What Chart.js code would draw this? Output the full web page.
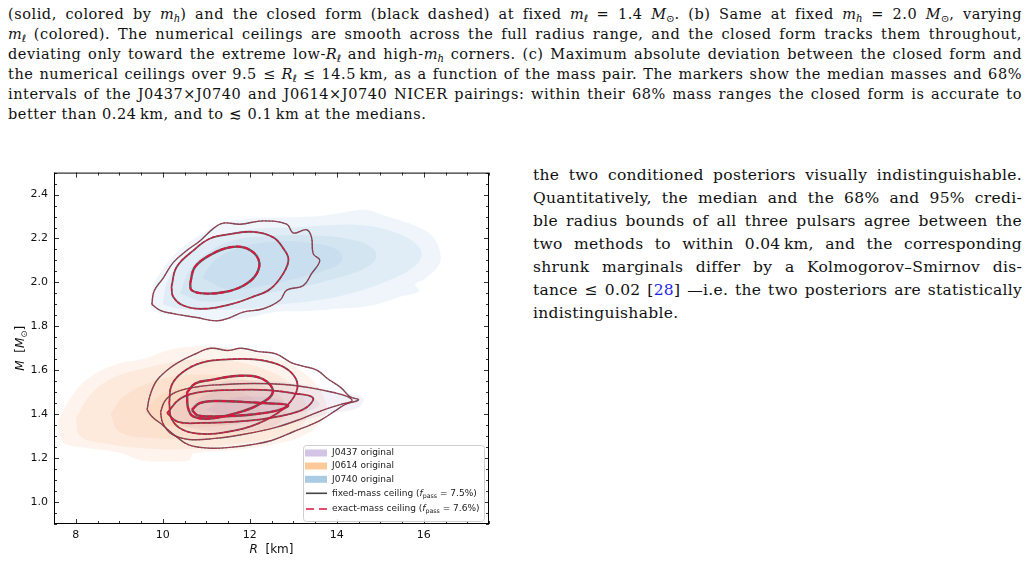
<!DOCTYPE html>
<html>
<head>
<meta charset="utf-8">
<script src="https://cdn.jsdelivr.net/npm/chart.js@4.4.1/dist/chart.umd.min.js"></script>
<style>
body{margin:0;width:1029px;height:562px;background:#fff;position:relative;overflow:hidden;font-family:"DejaVu Serif",serif;color:#111}
.cap{position:absolute;left:8px;top:3.5px;width:1014px;font-size:14.5px;line-height:20px;letter-spacing:0.55px}
.txt{position:absolute;left:533px;top:164.1px;width:489px;font-size:15.5px;line-height:23px;letter-spacing:0.3px}
.ln{text-align:justify;text-align-last:justify;white-space:nowrap}
.ln.last{text-align-last:left}
sub{font-size:0.7em;vertical-align:-0.25em;line-height:0}
.ell{font-family:"DejaVu Sans",sans-serif;font-style:normal}
.mth{display:inline-block;letter-spacing:0}
.ref{color:#1f1fe6}
#wrap{position:absolute;left:0;top:160px;width:520px;height:402px}
</style>
</head>
<body>

<div class="cap">
<div class="ln">(solid, colored by <span class="mth"><i>m</i><sub><i>h</i></sub></span>) and the closed form (black dashed) at fixed <span class="mth"><i>m</i><sub class="ell">ℓ</sub></span> = 1.4 <span class="mth"><i>M</i><sub>⊙</sub></span>. (b) Same at fixed <span class="mth"><i>m</i><sub><i>h</i></sub></span> = 2.0 <span class="mth"><i>M</i><sub>⊙</sub></span>, varying</div>
<div class="ln"><span class="mth"><i>m</i><sub class="ell">ℓ</sub></span> (colored). The numerical ceilings are smooth across the full radius range, and the closed form tracks them throughout,</div>
<div class="ln">deviating only toward the extreme low-<span class="mth"><i>R</i><sub class="ell">ℓ</sub></span> and high-<span class="mth"><i>m</i><sub><i>h</i></sub></span> corners. (c) Maximum absolute deviation between the closed form and</div>
<div class="ln">the numerical ceilings over 9.5 ≤ <span class="mth"><i>R</i><sub class="ell">ℓ</sub></span> ≤ 14.5&#8201;km, as a function of the mass pair. The markers show the median masses and 68%</div>
<div class="ln">intervals of the J0437×J0740 and J0614×J0740 NICER pairings: within their 68% mass ranges the closed form is accurate to</div>
<div class="ln last">better than 0.24&#8201;km, and to ≲ 0.1&#8201;km at the medians.</div>
</div>

<div class="txt">
<div class="ln">the two conditioned posteriors visually indistinguishable.</div>
<div class="ln">Quantitatively, the median and the 68% and 95% credi-</div>
<div class="ln">ble radius bounds of all three pulsars agree between the</div>
<div class="ln">two methods to within 0.04&#8201;km, and the corresponding</div>
<div class="ln">shrunk marginals differ by a Kolmogorov–Smirnov dis-</div>
<div class="ln">tance ≤ 0.02 [<span class="ref">28</span>] —i.e. the two posteriors are statistically</div>
<div class="ln last">indistinguishable.</div>
</div>

<div id="wrap"><canvas id="mr" width="520" height="402"></canvas></div>

<script>
// ================= AXES =================
const xRange = [7.5, 17.5];
const yRange = [0.9, 2.5];
const xMajor = [8, 10, 12, 14, 16];
const yMajor = [1.0, 1.2, 1.4, 1.6, 1.8, 2.0, 2.2, 2.4];
const xMinorStep = 0.5;
const yMinorStep = 0.05;

// ================= J0740 (blue) filled density levels =================
const j0740Fill1 = [[9.72,1.88],[9.76,1.97],[10.0,2.06],[10.4,2.15],[10.9,2.22],[11.4,2.27],[12.0,2.29],[12.8,2.295],[13.4,2.30],[13.7,2.305],[14.2,2.32],[14.7,2.33],[15.0,2.31],[15.5,2.28],[15.9,2.25],[16.2,2.21],[16.37,2.14],[16.35,2.08],[16.05,2.02],[15.8,1.99],[15.9,1.96],[15.45,1.935],[14.8,1.895],[14.0,1.88],[13.3,1.87],[12.6,1.865],[12.0,1.84],[11.5,1.83],[11.0,1.835],[10.4,1.85],[9.95,1.86]];
const j0740Fill2 = [[10.0,1.90],[10.1,2.0],[10.4,2.09],[10.9,2.17],[11.5,2.22],[12.2,2.245],[13.0,2.25],[13.8,2.26],[14.6,2.26],[15.3,2.23],[15.8,2.18],[15.95,2.12],[15.7,2.06],[15.2,2.01],[14.5,1.96],[13.6,1.92],[12.7,1.90],[11.9,1.88],[11.0,1.875],[10.4,1.88]];
const j0740Fill3 = [[10.4,1.95],[10.6,2.05],[11.0,2.13],[11.6,2.19],[12.4,2.21],[13.3,2.215],[14.2,2.20],[14.8,2.16],[14.9,2.11],[14.6,2.06],[14.0,2.02],[13.2,1.98],[12.4,1.95],[11.6,1.92],[10.9,1.915]];
const j0740Fill4 = [[10.9,2.02],[11.2,2.10],[11.8,2.16],[12.6,2.185],[13.4,2.18],[14.0,2.15],[14.12,2.10],[13.8,2.06],[13.1,2.02],[12.3,1.985],[11.5,1.97]];

// ================= J0614 (orange) filled density levels =================
const j0614Fill1 = [[7.6,1.37],[7.64,1.30],[7.75,1.265],[8.3,1.245],[9.0,1.225],[9.5,1.19],[10.0,1.185],[10.6,1.19],[10.7,1.22],[11.5,1.235],[12.5,1.26],[13.3,1.31],[13.75,1.40],[13.65,1.50],[13.3,1.58],[12.7,1.65],[11.9,1.69],[11.0,1.71],[10.2,1.695],[9.6,1.655],[8.9,1.625],[8.3,1.565],[7.9,1.48]];
const j0614Fill2 = [[8.0,1.38],[8.1,1.30],[8.7,1.265],[9.5,1.245],[10.5,1.24],[11.5,1.26],[12.5,1.29],[13.2,1.35],[13.3,1.44],[13.0,1.53],[12.4,1.60],[11.5,1.645],[10.5,1.645],[9.6,1.61],[8.8,1.56],[8.3,1.48]];
const j0614Fill3 = [[8.8,1.40],[9.0,1.32],[9.8,1.29],[10.8,1.29],[11.8,1.31],[12.6,1.35],[12.85,1.43],[12.5,1.51],[11.7,1.565],[10.7,1.58],[9.8,1.55],[9.1,1.48]];
const j0614Fill4 = [[9.6,1.41],[9.9,1.36],[10.7,1.34],[11.6,1.355],[12.2,1.40],[12.1,1.47],[11.4,1.515],[10.5,1.52],[9.9,1.48]];

// ================= J0437 (purple) filled density levels =================
const j0437Fill1 = [[10.2,1.42],[10.5,1.50],[11.2,1.545],[12.2,1.555],[13.2,1.535],[14.0,1.50],[14.6,1.475],[14.5,1.43],[13.8,1.40],[12.8,1.35],[11.8,1.32],[10.8,1.33],[10.3,1.37]];
const j0437Fill2 = [[10.6,1.42],[10.9,1.48],[11.6,1.51],[12.6,1.51],[13.4,1.48],[13.6,1.44],[13.0,1.40],[12.0,1.36],[11.0,1.36]];
const j0437Fill3 = [[11.0,1.42],[11.4,1.465],[12.2,1.48],[12.8,1.45],[12.4,1.405],[11.6,1.385]];

// ================= conditioned contours (fixed-mass / exact-mass) =================
const j0740Outer = [[9.75,1.90],[9.80,1.96],[10.01,2.02],[10.24,2.09],[10.55,2.145],[10.86,2.19],[11.16,2.245],[11.39,2.27],[11.78,2.265],[12.31,2.28],[12.85,2.265],[13.0,2.225],[13.31,2.24],[13.42,2.205],[13.46,2.13],[13.61,2.10],[13.42,2.04],[13.23,1.985],[12.85,1.965],[12.70,1.92],[12.31,1.88],[11.85,1.865],[11.55,1.84],[11.24,1.825],[10.78,1.84],[10.24,1.858],[9.94,1.873]];
const j0740Mid = [[10.2,1.98],[10.32,2.07],[10.70,2.145],[11.09,2.20],[11.55,2.22],[12.08,2.23],[12.54,2.205],[12.77,2.155],[12.89,2.105],[12.77,2.04],[12.47,1.97],[12.08,1.935],[11.55,1.90],[10.93,1.88],[10.47,1.895],[10.24,1.935]];
const j0740Inner = [[10.63,1.995],[10.74,2.07],[11.09,2.125],[11.55,2.16],[11.93,2.155],[12.2,2.105],[12.16,2.04],[11.85,1.985],[11.39,1.955],[10.93,1.95],[10.66,1.965]];

const j0614Outer = [[9.64,1.42],[9.70,1.48],[9.85,1.55],[10.1,1.60],[10.35,1.635],[10.7,1.67],[11.1,1.70],[11.5,1.69],[11.8,1.70],[12.2,1.685],[12.6,1.675],[12.95,1.635],[13.2,1.62],[13.55,1.60],[13.8,1.56],[14.1,1.52],[14.3,1.48],[14.5,1.465],[14.2,1.445],[14.0,1.42],[13.6,1.37],[13.0,1.32],[12.5,1.28],[12.0,1.26],[11.6,1.25],[11.1,1.245],[10.6,1.26],[10.3,1.30],[10.0,1.35],[9.75,1.39]];
const j0614Mid = [[10.15,1.45],[10.2,1.53],[10.45,1.59],[10.9,1.635],[11.5,1.65],[12.1,1.65],[12.6,1.63],[12.95,1.59],[13.1,1.53],[12.95,1.46],[12.6,1.40],[12.1,1.35],[11.5,1.32],[10.9,1.31],[10.45,1.33],[10.2,1.38]];
const j0614Inner = [[10.56,1.50],[10.75,1.54],[11.09,1.555],[11.78,1.575],[12.3,1.56],[12.53,1.50],[12.17,1.44],[11.6,1.40],[11.09,1.38],[10.7,1.39],[10.58,1.43]];

const j0437Outer = [[9.95,1.41],[10.05,1.46],[10.3,1.50],[10.8,1.525],[11.4,1.535],[12.1,1.54],[12.8,1.535],[13.4,1.52],[13.9,1.50],[14.25,1.48],[14.35,1.46],[14.1,1.445],[13.7,1.42],[13.2,1.38],[12.6,1.34],[11.9,1.31],[11.2,1.29],[10.6,1.285],[10.2,1.31],[10.0,1.36]];
const j0437Mid = [[10.1,1.405],[10.4,1.47],[10.86,1.50],[11.6,1.51],[12.4,1.51],[13.0,1.495],[13.45,1.475],[13.3,1.43],[12.9,1.40],[12.2,1.375],[11.6,1.365],[10.9,1.36],[10.35,1.365]];
const j0437Inner = [[10.67,1.42],[10.85,1.45],[11.25,1.46],[11.9,1.455],[12.4,1.45],[12.88,1.44],[12.6,1.415],[11.85,1.395],[11.2,1.39],[10.8,1.395]];

// ================= LEGEND =================
const legendPatches = [
  {label:"J0437 original", color:"#d3c3e4"},
  {label:"J0614 original", color:"#fdc998"},
  {label:"J0740 original", color:"#a9cbe3"}
];
const legendLines = [
  {label:"fixed-mass ceiling (", fpass:"7.5%", color:"#444444", dash:[]},
  {label:"exact-mass ceiling (", fpass:"7.6%", color:"#dc143c", dash:[8,5]}
];

const COL_BLACK = "rgba(70,70,70,0.85)";
const COL_RED = "#e0143c";

// ================= HELPERS =================
const closed = arr => arr.concat([arr[0]]).map(p => ({x:p[0], y:p[1]}));

function fillSet(arr, color){
  return {data:closed(arr), fill:"shape", backgroundColor:color, borderColor:"rgba(0,0,0,0)",
    borderWidth:0, pointRadius:0, tension:0.4};
}
function lineSet(arr, color, w, dash){
  return {data:closed(arr), fill:false, borderColor:color, borderWidth:w, borderDash:dash,
    pointRadius:0, tension:0.4};
}

const levels = [
  {arr:j0740Outer, w:0.9, dash:[2,1.5]},
  {arr:j0740Mid, w:1.3, dash:[4,1.5]},
  {arr:j0740Inner, w:1.9, dash:[6,2]},
  {arr:j0614Outer, w:0.9, dash:[2,1.5]},
  {arr:j0614Mid, w:1.3, dash:[4,1.5]},
  {arr:j0614Inner, w:1.9, dash:[6,2]},
  {arr:j0437Outer, w:0.9, dash:[2,1.5]},
  {arr:j0437Mid, w:1.3, dash:[4,1.5]},
  {arr:j0437Inner, w:1.9, dash:[6,2]}
];

let datasets = [];
// first dataset is drawn on top
levels.forEach(l => datasets.push(lineSet(l.arr, COL_RED, l.w, l.dash)));
levels.forEach(l => datasets.push(lineSet(l.arr, COL_BLACK, l.w + 0.5, [])));
[j0437Fill1, j0437Fill2, j0437Fill3].forEach(a => datasets.push(fillSet(a, "rgba(150,120,200,0.10)")));
[j0614Fill1, j0614Fill2, j0614Fill3, j0614Fill4].forEach(a => datasets.push(fillSet(a, "rgba(245,150,80,0.10)")));
[j0740Fill1, j0740Fill2, j0740Fill3, j0740Fill4].forEach(a => datasets.push(fillSet(a, "rgba(110,160,205,0.11)")));


// ================= DRAW HELPERS =================
function richParts(ctx, parts, size){
  let w = 0;
  parts.forEach(p => {
    ctx.font = (p.it ? "italic " : "") + (p.sub ? size*0.7 : size) + "px 'DejaVu Sans'";
    p.w = ctx.measureText(p.t).width;
    w += p.w;
  });
  return w;
}
function drawRich(ctx, parts, size, x, y){
  parts.forEach(p => {
    ctx.font = (p.it ? "italic " : "") + (p.sub ? size*0.7 : size) + "px 'DejaVu Sans'";
    ctx.fillText(p.t, x, y + (p.sub ? size*0.3 : 0));
    x += p.w;
  });
}

const decorations = {
  id:"decorations",
  afterDatasetsDraw(chart){
    const {ctx, chartArea:a, scales:{x, y}} = chart;
    ctx.save();

    // frame
    ctx.strokeStyle = "#000";
    ctx.lineWidth = 1;
    ctx.strokeRect(a.left + 0.5, a.top + 0.5, a.right - a.left - 1, a.bottom - a.top - 1);

    // inward ticks on all four sides
    ctx.lineWidth = 0.8;
    const seg = (x1,y1,x2,y2) => { ctx.beginPath(); ctx.moveTo(x1,y1); ctx.lineTo(x2,y2); ctx.stroke(); };
    for(let v = xRange[0]; v <= xRange[1] + 1e-9; v += xMinorStep){
      const major = xMajor.some(m => Math.abs(m - v) < 1e-6);
      const len = major ? 5 : 3;
      const px = Math.round(x.getPixelForValue(v)) + 0.5;
      seg(px, a.bottom, px, a.bottom - len);
      seg(px, a.top, px, a.top + len);
    }
    for(let v = yRange[0]; v <= yRange[1] + 1e-9; v += yMinorStep){
      const major = yMajor.some(m => Math.abs(m - v) < 1e-6);
      const len = major ? 5 : 3;
      const py = Math.round(y.getPixelForValue(v)) + 0.5;
      seg(a.left, py, a.left + len, py);
      seg(a.right, py, a.right - len, py);
    }

    // axis titles
    ctx.fillStyle = "#111";
    ctx.textBaseline = "middle";
    const xt = [{t:"R", it:true}, {t:"  [km]"}];
    const xw = richParts(ctx, xt, 12);
    drawRich(ctx, xt, 12, (a.left + a.right)/2 - xw/2, a.bottom + 26);

    const yt = [{t:"M", it:true}, {t:"  ["}, {t:"M", it:true}, {t:"⊙", sub:true}, {t:"]"}];
    const yw = richParts(ctx, yt, 12);
    ctx.save();
    ctx.translate(a.left - 33, (a.top + a.bottom)/2);
    ctx.rotate(-Math.PI/2);
    drawRich(ctx, yt, 12, -yw/2, 0);
    ctx.restore();

    // legend
    const lw = 181, lh = 76;
    const lx = a.right - 5 - lw, ly = a.bottom - 3 - lh;
    ctx.beginPath();
    ctx.roundRect(lx + 0.5, ly + 0.5, lw, lh, 3);
    ctx.fillStyle = "rgba(255,255,255,0.85)";
    ctx.fill();
    ctx.strokeStyle = "#cfcfcf";
    ctx.lineWidth = 1;
    ctx.stroke();

    const rowY = [8, 21, 34.3, 48.3, 64];
    legendPatches.forEach((p, i) => {
      ctx.fillStyle = p.color;
      ctx.fillRect(lx + 2, ly + rowY[i] - 3.5, 22, 7);
      ctx.fillStyle = "#222";
      ctx.font = "9px 'DejaVu Sans'";
      ctx.fillText(p.label, lx + 29, ly + rowY[i]);
    });
    legendLines.forEach((l, j) => {
      const ry = ly + rowY[3 + j];
      ctx.strokeStyle = l.color;
      ctx.lineWidth = 1.6;
      ctx.setLineDash(l.dash);
      seg(lx + 3, ry, lx + 24, ry);
      ctx.setLineDash([]);
      ctx.fillStyle = "#222";
      const parts = [{t:l.label}, {t:"f", it:true}, {t:"pass", sub:true}, {t:" = " + l.fpass + ")"}];
      richParts(ctx, parts, 9);
      drawRich(ctx, parts, 9, lx + 29, ry);
    });

    ctx.restore();
  }
};

// ================= CHART =================
new Chart(document.getElementById("mr"), {
  type:"line",
  data:{datasets:datasets},
  options:{
    responsive:false,
    animation:false,
    devicePixelRatio:1,
    events:[],
    layout:{padding:{top:12, right:31, bottom:12, left:0}},
    plugins:{legend:{display:false}, tooltip:{enabled:false}},
    scales:{
      x:{
        type:"linear", position:"bottom", min:xRange[0], max:xRange[1],
        afterBuildTicks: s => { s.ticks = xMajor.map(v => ({value:v})); },
        afterFit: s => { s.height = 26; },
        grid:{display:false, drawTicks:false},
        border:{display:false},
        ticks:{color:"#111", padding:5, font:{family:"DejaVu Sans", size:11}, callback: v => String(v), maxRotation:0}
      },
      y:{
        type:"linear", position:"left", min:yRange[0], max:yRange[1],
        afterBuildTicks: s => { s.ticks = yMajor.map(v => ({value:v})); },
        afterFit: s => { s.width = 54; },
        grid:{display:false, drawTicks:false},
        border:{display:false},
        ticks:{color:"#111", padding:6, font:{family:"DejaVu Sans", size:11}, callback: v => Number(v).toFixed(1)}
      }
    }
  },
  plugins:[decorations]
});
</script>
</body>
</html>
